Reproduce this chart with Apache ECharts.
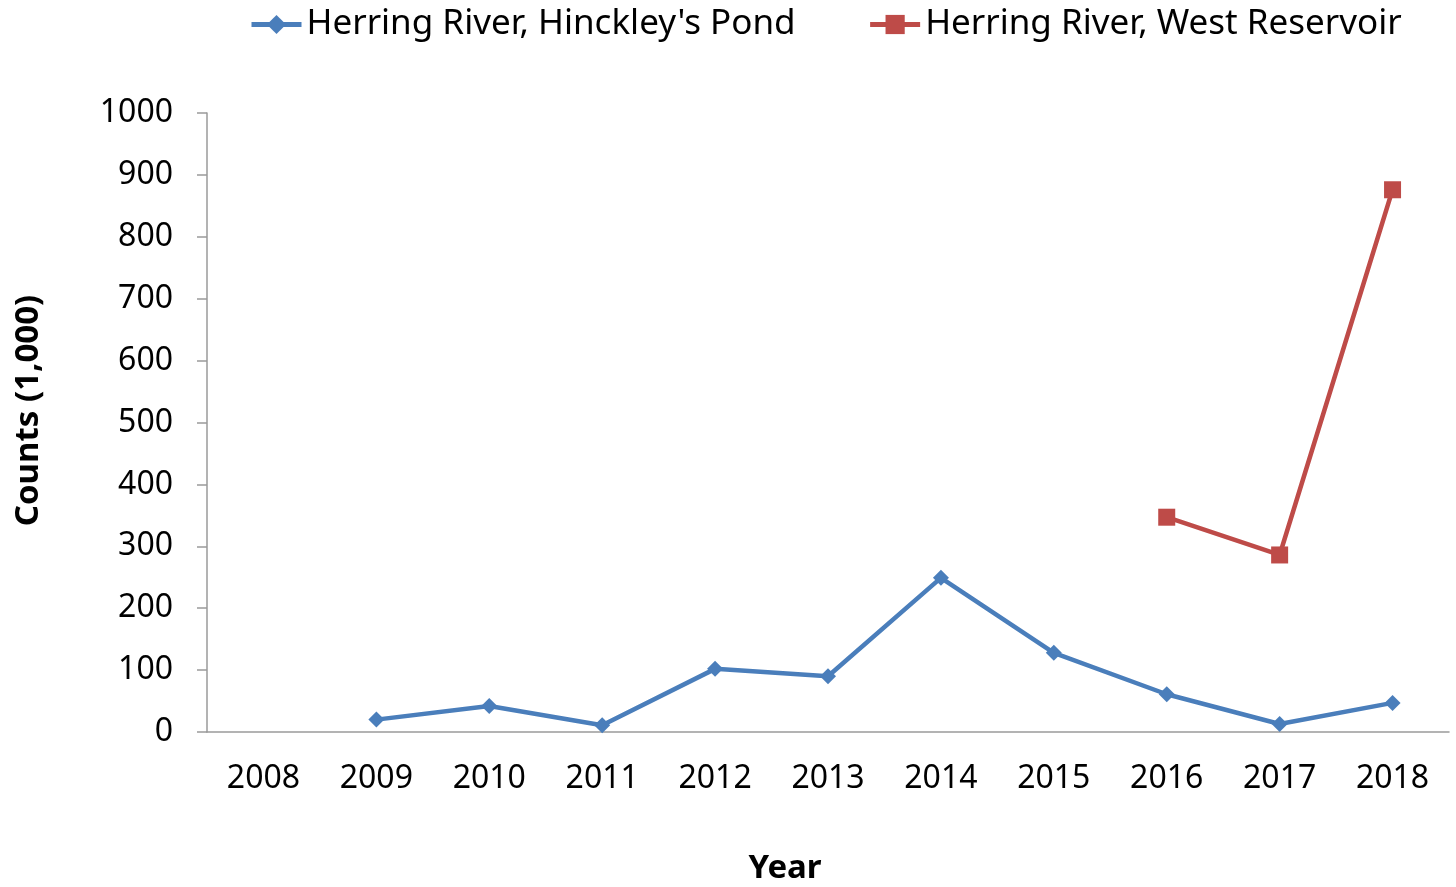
<!DOCTYPE html>
<html>
<head>
<meta charset="UTF-8">
<title>herring counts</title>
<script type="text/javascript" src="https://cdn.jsdelivr.net/npm/echarts@6/dist/echarts.min.js"></script>
<style>
	html, body { margin: 0; padding: 0; background: #fff; }
</style>
</head>
<body>
<div id="main" style="width: 1456px; height: 887px"></div>

<script type="text/javascript">
	// data
	var years = ['2008', '2009', '2010', '2011', '2012', '2013', '2014', '2015', '2016', '2017', '2018'];
	var hinckley = [null, 20, 42, 11, 102, 90, 249, 128, 61, 13, 47];
	var westRes = [null, null, null, null, null, null, null, null, 347, 286, 876];
	var yTicks = [0, 100, 200, 300, 400, 500, 600, 700, 800, 900, 1000];

	var font = 'Noto Sans';
	var mychart = echarts.init(document.getElementById('main'));
	var option = {
		animation: false,
		textStyle: { fontFamily: font },
		legend: {
			top: 2,
			left: 244,
			itemGap: 72,
			itemWidth: 50,
			itemHeight: 24,
			lineStyle: { width: 5 },
			textStyle: { fontSize: 35, color: '#000', fontFamily: font },
			data: ["Herring River, Hinckley's Pond", 'Herring River, West Reservoir']
		},
		grid: {
			left: 207,
			right: 7,
			top: 113,
			bottom: 155,
			outerBoundsMode: 'none'
		},
		xAxis: {
			type: 'category',
			data: years,
			boundaryGap: true,
			name: 'Year',
			nameLocation: 'middle',
			nameGap: 120,
			nameTextStyle: { fontSize: 33, fontWeight: 'bold', color: '#000', padding: [0, 86, 0, 0] },
			axisLine: { lineStyle: { color: '#9a9a9a', width: 1.5 } },
			axisTick: { length: 10, lineStyle: { color: '#9a9a9a', width: 1.5 } },
			axisLabel: { fontSize: 32, color: '#000', margin: 31 }
		},
		yAxis: {
			type: 'value',
			min: yTicks[0],
			max: yTicks[yTicks.length - 1],
			interval: 100,
			name: 'Counts (1,000)',
			nameLocation: 'middle',
			nameGap: 162,
			nameTextStyle: { fontSize: 33, fontWeight: 'bold', color: '#000', padding: [0, 0, 0, 24] },
			splitLine: { show: false },
			axisLine: { show: true, lineStyle: { color: '#9a9a9a', width: 1.5 } },
			axisTick: { show: true, length: 10, lineStyle: { color: '#9a9a9a', width: 1.5 } },
			axisLabel: { fontSize: 32, color: '#000', margin: 34, formatter: function (v) { return String(v); } }
		},
		series: [{
			name: "Herring River, Hinckley's Pond",
			type: 'line',
			data: hinckley,
			symbol: 'diamond',
			symbolSize: 16,
			itemStyle: { color: '#4a7ebb' },
			lineStyle: { color: '#4a7ebb', width: 4.5 }
		},
		{
			name: 'Herring River, West Reservoir',
			type: 'line',
			data: westRes,
			symbol: 'rect',
			symbolSize: 17,
			itemStyle: { color: '#be4b48' },
			lineStyle: { color: '#be4b48', width: 4.5 }
		}]
	};

	mychart.setOption(option);
</script>
</body>
</html>
